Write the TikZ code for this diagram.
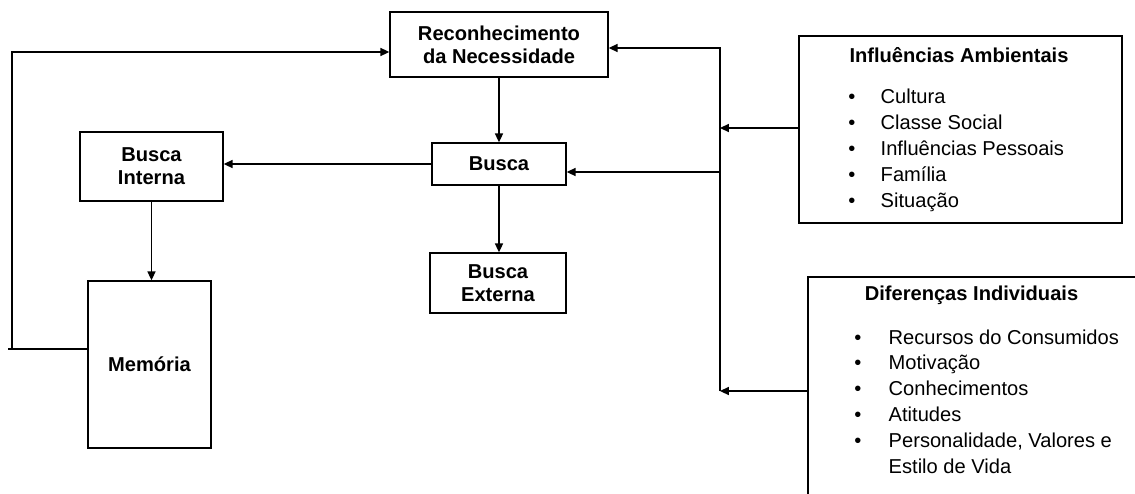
\documentclass[tikz,border=0pt]{standalone}
\usepackage{fontspec}
\setmainfont{Liberation Sans}
\usetikzlibrary{arrows.meta}

\tikzset{
  box/.style={draw, line width=1pt, align=center, inner sep=0pt,
    font=\bfseries\fontsize{14.3}{16.5}\selectfont},
  listitem/.style={anchor=base west, inner sep=0pt, font=\fontsize{14.3}{16.5}\selectfont},
  dot/.style={anchor=base, inner sep=0pt, font=\fontsize{14.3}{16.5}\selectfont},
}

\begin{document}
\begin{tikzpicture}[x=0.025cm, y=-0.025cm, >={Triangle[length=2.2mm,width=2mm]}, line width=1pt]

        \useasboundingbox (0,0) rectangle (1135,493);
        \clip (0,0) rectangle (1135,493);

        % Process boxes
        \node[box, minimum width=5.45cm, minimum height=1.625cm] (rec) at (499,44.5) {Reconhecimento\\da Necessidade};
        \node[box, minimum width=3.35cm, minimum height=1.05cm] (busca) at (499,164) {Busca};
        \node[box, minimum width=3.4cm, minimum height=1.5cm] (bext) at (498,283) {Busca\\Externa};
        \node[box, minimum width=3.575cm, minimum height=1.725cm] (bint) at (151.5,166.5) {Busca\\Interna};
        \node[box, minimum width=3.075cm, minimum height=4.175cm] (mem) at (149.5,364.5) {Mem\'oria};

        % Influence boxes
        \node[box, minimum width=8.075cm, minimum height=4.675cm] (infl) at (960.5,129.5) {};
        \node[box, minimum width=8.55cm, minimum height=5.825cm] (dif) at (979,393.5) {};

        \node[box, draw=none] (infltit) at (959,55) {Influências Ambientais};
        \foreach \t [count=\i] in {Cultura, Classe Social, Influências Pessoais, Família, Situação} {
            \node[dot] (inflb\i) at (852,77+26*\i) {\textbullet};
            \node[listitem] (infl\i) at (880,77+26*\i) {\t};
        }

        \node[box, draw=none] (diftit) at (971.5,295) {Diferenças Individuais};
        \foreach \t [count=\i] in {Recursos do Consumidos, Motivação, Conhecimentos, Atitudes, {Personalidade, Valores e}} {
            \node[dot] (difb\i) at (858,318.2+25.8*\i) {\textbullet};
            \node[listitem] (dif\i) at (888,318.2+25.8*\i) {\t};
        }
        \node[listitem] (dif6) at (888,473) {Estilo de Vida};

        % Bus coordinates
        \coordinate (bustop) at (720,48);
        \coordinate (busbot) at (720,391);
        \coordinate (busmid) at (720,172);
        \coordinate (busin) at (720,128);
        \coordinate (fbend) at (8,349);
        \coordinate (fbcorner) at (12,349);
        \coordinate (fbtop) at (12,52);

        % Main flow
        \draw[->] (rec.south -| busca.north) -- (busca.north);
        \draw[->] (busca.south) -- (busca.south |- bext.north);
        \draw[->] (busca.west) -- (busca.west -| bint.east);
        \draw[->] (bint.south) -- (bint.south |- mem.north);

        % Feedback from memory
        \draw (mem.west |- fbend) -- (fbend);
        \draw[->] (fbcorner) -- (fbtop) -- (fbtop -| rec.west);

        % Influences
        \draw[->] (busbot) -- (bustop) -- (bustop -| rec.east);
        \draw[->] (busmid) -- (busmid -| busca.east);
        \draw[->] (infl.west |- busin) -- (busin);
        \draw[->] (dif.west |- busbot) -- (busbot);

\end{tikzpicture}
\end{document}
